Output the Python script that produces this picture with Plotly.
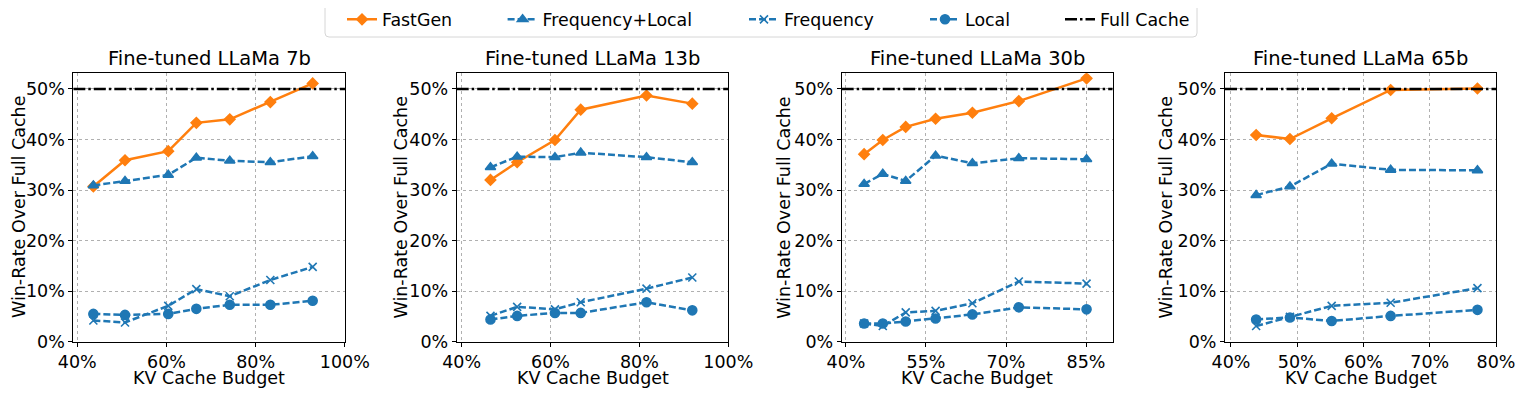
import plotly.graph_objects as go
from plotly.subplots import make_subplots

# ---- data ----
titles = ["Fine-tuned LLaMa 7b", "Fine-tuned LLaMa 13b", "Fine-tuned LLaMa 30b", "Fine-tuned LLaMa 65b"]

budget_7b = [43.6, 50.7, 60.4, 66.7, 74.2, 83.3, 92.8]
fastgen_7b = [30.7, 35.9, 37.7, 43.3, 44.0, 47.4, 51.1]
freq_local_7b = [30.9, 31.8, 33.0, 36.4, 35.8, 35.5, 36.7]
freq_7b = [4.2, 3.8, 7.1, 10.4, 9.0, 12.2, 14.8]
local_7b = [5.5, 5.3, 5.5, 6.5, 7.3, 7.3, 8.1]

budget_13b = [46.5, 52.5, 61.0, 66.8, 81.6, 91.9]
fastgen_13b = [32.0, 35.5, 39.9, 45.9, 48.7, 47.1]
freq_local_13b = [34.5, 36.6, 36.5, 37.4, 36.5, 35.5]
freq_13b = [5.1, 6.9, 6.4, 7.8, 10.5, 12.7]
local_13b = [4.4, 5.1, 5.7, 5.7, 7.8, 6.2]

budget_30b = [43.4, 46.9, 51.2, 56.8, 63.7, 72.4, 85.1]
fastgen_30b = [37.1, 39.9, 42.5, 44.1, 45.3, 47.6, 52.1]
freq_local_30b = [31.2, 33.2, 31.8, 36.8, 35.3, 36.3, 36.1]
freq_30b = [3.6, 3.1, 5.8, 6.1, 7.6, 11.9, 11.5]
local_30b = [3.6, 3.6, 4.0, 4.6, 5.4, 6.8, 6.4]

budget_65b = [43.8, 48.9, 55.2, 64.1, 77.2]
fastgen_65b = [40.9, 40.1, 44.2, 49.8, 50.1]
freq_local_65b = [29.0, 30.7, 35.2, 34.0, 33.9]
freq_65b = [3.1, 4.9, 7.1, 7.7, 10.6]
local_65b = [4.4, 4.8, 4.1, 5.1, 6.3]

full_cache = 50

xticks_7b = [40, 60, 80, 100]
xticks_13b = [40, 60, 80, 100]
xticks_30b = [40, 55, 70, 85]
xticks_65b = [40, 50, 60, 70, 80]
yticks = [0, 10, 20, 30, 40, 50]

# ---- layout in pixels (page coordinates; the page body adds an 8px offset) ----
OFF = 8
W, H = 1523 - OFF, 393 - OFF


def px_x(p):
    return (p - OFF) / W


def px_y(p):
    return 1 - (p - OFF) / H


x_ranges = [[39.1, 100.05], [38.9, 100.0], [39.2, 90.0], [39.1, 80.0]]
y_range = [0, 53.1]
plot_px = [(73.3, 345.0), (456.7, 728.3), (841.7, 1112.7), (1225.0, 1496.0)]
ylabel_px = [18.5, 400.0, 783.3, 1165.0]
plot_top, plot_bot = 73.3, 341.7

ORANGE = "#ff7f0e"
BLUE = "#1f77b4"
FONT = "DejaVu Sans"

panels = [
    (budget_7b, fastgen_7b, freq_local_7b, freq_7b, local_7b, xticks_7b),
    (budget_13b, fastgen_13b, freq_local_13b, freq_13b, local_13b, xticks_13b),
    (budget_30b, fastgen_30b, freq_local_30b, freq_30b, local_30b, xticks_30b),
    (budget_65b, fastgen_65b, freq_local_65b, freq_65b, local_65b, xticks_65b),
]

fig = make_subplots(rows=1, cols=4)

dash_blue = "7px,3px"
for i, (bx, fg, fl, fr, lo, xt) in enumerate(panels):
    col = i + 1
    first = i == 0
    series = [
        ("FastGen", fg, ORANGE, "solid", "diamond", 8, "legend"),
        ("Frequency+Local", fl, BLUE, dash_blue, "triangle-up", 9, "legend2"),
        ("Frequency", fr, BLUE, dash_blue, "x-thin", 8, "legend3"),
        ("Local", lo, BLUE, dash_blue, "circle", 9, "legend4"),
    ]
    for name, ys, c, dash, sym, sz, lg in series:
        fig.add_trace(go.Scatter(
            x=bx, y=ys, name=name, mode="lines+markers",
            line=dict(color=c, width=2.5, dash=dash),
            marker=dict(symbol=sym, size=sz, color=c, line=dict(color=c, width=1.6)),
            legendgroup=name, showlegend=first, legend=lg,
        ), row=1, col=col)
    fig.add_trace(go.Scatter(
        x=x_ranges[i], y=[full_cache, full_cache], name="Full Cache", mode="lines",
        line=dict(color="black", width=2.5, dash="12px,3px,2.5px,3px"),
        legendgroup="Full Cache", showlegend=first, legend="legend5",
    ), row=1, col=col)

    x0, x1 = plot_px[i]
    fig.update_xaxes(
        domain=[px_x(x0), px_x(x1)], range=x_ranges[i],
        tickvals=xt, ticktext=[f"{v}%" for v in xt],
        row=1, col=col)
    fig.update_yaxes(
        domain=[px_y(plot_bot), px_y(plot_top)], range=y_range,
        tickvals=yticks, ticktext=[f"{v}%" for v in yticks],
        row=1, col=col)

    fig.add_annotation(text=titles[i], x=px_x((x0 + x1) / 2), y=px_y(58),
                       xref="paper", yref="paper", showarrow=False,
                       xanchor="center", yanchor="middle",
                       font=dict(size=19.5, color="black", family=FONT))
    fig.add_annotation(text="KV Cache Budget", x=px_x((x0 + x1) / 2), y=px_y(378),
                       xref="paper", yref="paper", showarrow=False,
                       xanchor="center", yanchor="middle",
                       font=dict(size=17.5, color="black", family=FONT))
    fig.add_annotation(text="Win-Rate Over Full Cache", x=px_x(ylabel_px[i]),
                       y=px_y((plot_top + plot_bot) / 2),
                       xref="paper", yref="paper", showarrow=False, textangle=-90,
                       xanchor="center", yanchor="middle",
                       font=dict(size=17.5, color="black", family=FONT))

axis_style = dict(
    showline=True, linecolor="black", linewidth=1, mirror=True,
    ticks="outside", ticklen=4, tickwidth=1, tickcolor="black",
    showgrid=True, gridcolor="#b0b0b0", griddash="dot", gridwidth=1.3,
    zeroline=False, tickfont=dict(size=17.5, color="black", family=FONT),
)
fig.update_xaxes(**axis_style)
fig.update_yaxes(**axis_style)

# legends, one per entry, laid out like the reference
legend_x_px = [342, 502.6, 744, 925, 1060]
leg_common = dict(orientation="h", yanchor="middle", xanchor="left", y=px_y(19.5),
                  bgcolor="rgba(0,0,0,0)", borderwidth=0,
                  font=dict(size=17.4, color="black", family=FONT))
legend_kw = {}
for k, lx in enumerate(legend_x_px):
    key = "legend" if k == 0 else f"legend{k + 1}"
    legend_kw[key] = dict(x=px_x(lx), **leg_common)

# rounded frame around the legend
bx0, bx1, by0, by1 = px_x(325), px_x(1197), px_y(37), px_y(3)
rx, ry = 4 / W, 4 / H
frame = (f"M{bx0 + rx},{by1} L{bx1 - rx},{by1} Q{bx1},{by1} {bx1},{by1 - ry} "
         f"L{bx1},{by0 + ry} Q{bx1},{by0} {bx1 - rx},{by0} L{bx0 + rx},{by0} "
         f"Q{bx0},{by0} {bx0},{by0 + ry} L{bx0},{by1 - ry} Q{bx0},{by1} {bx0 + rx},{by1} Z")
fig.add_shape(type="path", path=frame, xref="paper", yref="paper",
              line=dict(color="#d6d6d6", width=1), fillcolor="white", layer="below")

fig.update_layout(
    width=W, height=H, margin=dict(l=0, r=0, t=0, b=0, autoexpand=False),
    plot_bgcolor="white", paper_bgcolor="white",
    font=dict(family=FONT, color="black"),
    **legend_kw,
)

fig.write_html("out.html")
